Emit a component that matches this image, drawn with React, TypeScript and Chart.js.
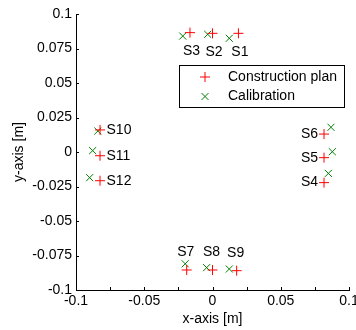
import React, { useEffect, useRef } from "react";
import { Chart, registerables } from "chart.js";

Chart.register(...registerables);

const sensorNames = ["S1", "S2", "S3", "S4", "S5", "S6", "S7", "S8", "S9", "S10", "S11", "S12"];
const planX = [0.019, 0.0, -0.0165, 0.0817, 0.0817, 0.0817, -0.0189, 0.0, 0.0177, -0.0824, -0.0824, -0.0824];
const planY = [0.086, 0.086, 0.0865, -0.0222, -0.0041, 0.013, -0.0855, -0.0855, -0.086, 0.016, -0.0027, -0.0208];
const calX = [0.0123, -0.0035, -0.0218, 0.0849, 0.0878, 0.0868, -0.02, -0.0043, 0.0123, -0.084, -0.0878, -0.09];
const calY = [0.0824, 0.0853, 0.084, -0.0155, 0.0002, 0.0179, -0.081, -0.0838, -0.0848, 0.0152, 0.001, -0.0186];
const seriesNames = ["Construction plan", "Calibration"];
const xTickLabels = ["-0.1", "", "-0.05", "", "0", "", "0.05", "", "0.1"];
const yTickLabels = ["-0.1", "-0.075", "-0.05", "-0.025", "0", "0.025", "0.05", "0.075", "0.1"];
const xTitle = "x-axis [m]";
const yTitle = "y-axis [m]";

const FONT = "'Liberation Sans', Arial, sans-serif";
const RED = "#ff0000";
const GREEN = "#008000";

const decorPlugin = {
  id: "decor",
  afterDatasetsDraw(chart: any) {
    const { ctx, chartArea, scales } = chart;
    const xs = scales.x;
    const ys = scales.y;
    ctx.save();
    // inward tick marks
    ctx.strokeStyle = "#000";
    ctx.lineWidth = 1;
    ctx.beginPath();
    xs.ticks.forEach((t: any) => {
      const px = Math.round(xs.getPixelForValue(t.value)) + 0.5;
      ctx.moveTo(px, chartArea.bottom);
      ctx.lineTo(px, chartArea.bottom - 3);
    });
    ys.ticks.forEach((t: any) => {
      const py = Math.round(ys.getPixelForValue(t.value)) + 0.5;
      ctx.moveTo(chartArea.left, py);
      ctx.lineTo(chartArea.left + 3, py);
    });
    ctx.stroke();

    // sensor labels
    ctx.fillStyle = "#000";
    ctx.font = "14px " + FONT;
    sensorNames.forEach((name, i) => {
      const vx = planX[i];
      const vy = planY[i];
      const px = xs.getPixelForValue(vx);
      const py = ys.getPixelForValue(vy);
      if (vy > 0.05) {
        ctx.textAlign = "center";
        ctx.textBaseline = "middle";
        ctx.fillText(name, px + 1.5, py + 18.5);
      } else if (vy < -0.05) {
        ctx.textAlign = "center";
        ctx.textBaseline = "middle";
        ctx.fillText(name, px - 1, py - 18);
      } else if (vx < -0.05) {
        ctx.textAlign = "left";
        ctx.textBaseline = "middle";
        ctx.fillText(name, px + 6.5, py);
      } else {
        ctx.textAlign = "right";
        ctx.textBaseline = "middle";
        ctx.fillText(name, px - 6, py);
      }
    });

    // legend
    const lx = 179.5, ly = 65.5, lw = 165, lh = 42;
    ctx.fillStyle = "#fff";
    ctx.fillRect(lx, ly, lw, lh);
    ctx.strokeStyle = "#000";
    ctx.strokeRect(lx, ly, lw, lh);
    const rows = [ly + 11.5, ly + 31];
    chart.data.datasets.forEach((ds: any, i: number) => {
      const cx = 205;
      const cy = rows[i];
      ctx.strokeStyle = ds.borderColor;
      ctx.lineWidth = 1;
      ctx.beginPath();
      if (i === 0) {
        ctx.moveTo(cx - 5, cy);
        ctx.lineTo(cx + 5, cy);
        ctx.moveTo(cx, cy - 5);
        ctx.lineTo(cx, cy + 5);
      } else {
        ctx.moveTo(cx - 3.5, cy - 3.5);
        ctx.lineTo(cx + 3.5, cy + 3.5);
        ctx.moveTo(cx - 3.5, cy + 3.5);
        ctx.lineTo(cx + 3.5, cy - 3.5);
      }
      ctx.stroke();
      ctx.fillStyle = "#000";
      ctx.textAlign = "left";
      ctx.textBaseline = "middle";
      ctx.fillText(ds.label, 228, cy);
    });
    ctx.restore();
  },
};

export default function App() {
  const ref = useRef<HTMLCanvasElement | null>(null);
  useEffect(() => {
    if (!ref.current) return;
    const chart = new Chart(ref.current, {
      type: "scatter",
      data: {
        datasets: [
          {
            label: seriesNames[0],
            data: planX.map((x, i) => ({ x, y: planY[i] })),
            pointStyle: "cross",
            radius: 5,
            borderColor: RED,
            backgroundColor: RED,
            borderWidth: 1,
          },
          {
            label: seriesNames[1],
            data: calX.map((x, i) => ({ x, y: calY[i] })),
            pointStyle: "crossRot",
            radius: 5,
            borderColor: GREEN,
            backgroundColor: GREEN,
            borderWidth: 1,
          },
        ],
      },
      options: {
        responsive: false,
        animation: false,
        layout: { padding: { left: 0, right: 7, top: 14, bottom: 0 } },
        plugins: { legend: { display: false }, tooltip: { enabled: false } },
        scales: {
          x: {
            type: "linear",
            min: -0.1,
            max: 0.1,
            grid: { display: false, drawTicks: false },
            border: { display: true, color: "#000", width: 1 },
            ticks: {
              stepSize: 0.025,
              padding: 3,
              color: "#000",
              autoSkip: false,
              maxRotation: 0,
              font: { family: FONT, size: 14 },
              callback: (_v: any, i: number) => xTickLabels[i],
            },
            title: {
              display: true,
              text: xTitle,
              color: "#000",
              font: { family: FONT, size: 14 },
              padding: { top: 0, bottom: 2.6 },
            },
            afterFit: (s: any) => {
              s.height = 40;
              s.paddingLeft = 0;
              s.paddingRight = 0;
            },
          },
          y: {
            type: "linear",
            min: -0.1,
            max: 0.1,
            grid: { display: false, drawTicks: false },
            border: { display: true, color: "#000", width: 1 },
            ticks: {
              stepSize: 0.025,
              padding: 4,
              color: "#000",
              autoSkip: false,
              font: { family: FONT, size: 14 },
              callback: (_v: any, i: number) => yTickLabels[i],
            },
            title: {
              display: true,
              text: yTitle,
              color: "#000",
              font: { family: FONT, size: 14 },
              padding: { top: 10.6, bottom: 0 },
            },
            afterFit: (s: any) => {
              s.width = 76;
              s.paddingTop = 0;
              s.paddingBottom = 0;
            },
          },
        },
      },
      plugins: [decorPlugin],
    } as any);
    return () => chart.destroy();
  }, []);
  return (
    <div style={{ position: "fixed", left: 0, top: 0, width: 356, height: 330, background: "#fff" }}>
      <canvas ref={ref} width={356} height={330} />
    </div>
  );
}
